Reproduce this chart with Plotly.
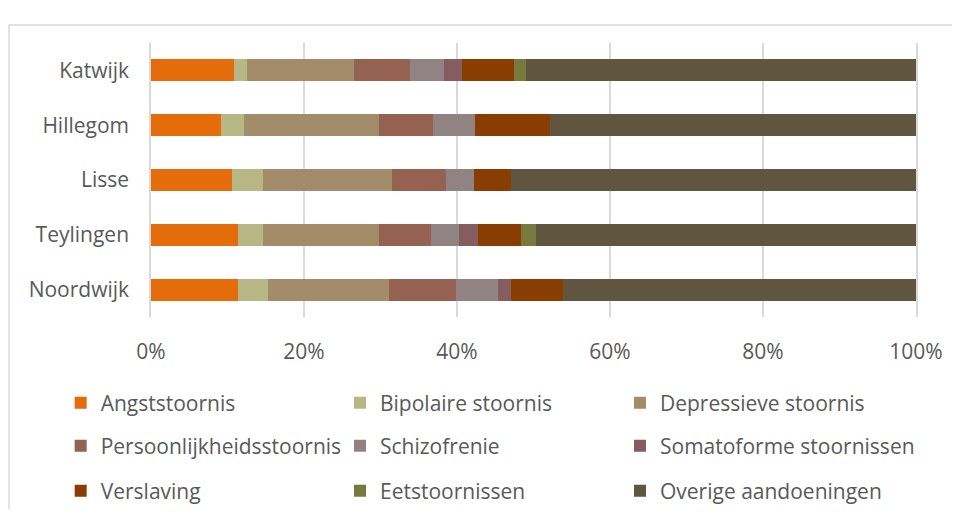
import plotly.graph_objects as go

categories = ["Katwijk", "Hillegom", "Lisse", "Teylingen", "Noordwijk"]

angst = [10.8, 9.2, 10.6, 11.4, 11.4]
bipolair = [1.8, 2.9, 4.0, 3.3, 3.9]
depressief = [13.9, 17.7, 16.9, 15.1, 15.8]
persoonlijkheid = [7.4, 7.1, 7.0, 6.8, 8.8]
schizofrenie = [4.4, 5.5, 3.7, 3.6, 5.4]
somatoform = [2.4, 0.0, 0.0, 2.6, 1.8]
verslaving = [6.7, 9.8, 4.9, 5.5, 6.8]
eetstoornissen = [1.6, 0.0, 0.0, 2.0, 0.0]
overige = [51.0, 47.8, 52.9, 49.7, 46.1]

series_names = ["Angststoornis", "Bipolaire stoornis", "Depressieve stoornis",
                "Persoonlijkheidsstoornis", "Schizofrenie", "Somatoforme stoornissen",
                "Verslaving", "Eetstoornissen", "Overige aandoeningen"]
series_values = [angst, bipolair, depressief, persoonlijkheid, schizofrenie,
                 somatoform, verslaving, eetstoornissen, overige]
colors = ["#E46C0A", "#B7B785", "#A38C6A", "#956251", "#918384",
          "#865D5E", "#8A3D00", "#77793F", "#605640"]
tick_vals = [0, 20, 40, 60, 80, 100]
tick_text = ["0%", "20%", "40%", "60%", "80%", "100%"]

FONT = "Open Sans"
TXT = "#595959"
FS = 21

fig = go.Figure()
legend_ids = ["legend" if i == 0 else f"legend{i+1}" for i in range(9)]
for name, vals, col, lg in zip(series_names, series_values, colors, legend_ids):
    fig.add_trace(go.Bar(
        y=categories, x=vals, name=name, orientation="h",
        marker=dict(color=col, line=dict(width=0)),
        legend=lg,
    ))

# legend grid positions (container coords): 3 columns x 3 rows
col_x = [0.0558, 0.3517, 0.6483]
row_y = [0.2116, 0.1257, 0.0359]
legend_layout = {}
for i, lg in enumerate(legend_ids):
    legend_layout[lg] = dict(
        orientation="h", xanchor="left", yanchor="middle",
        xref="container", yref="container",
        x=col_x[i % 3], y=row_y[i // 3],
        font=dict(family=FONT, size=FS, color=TXT),
        bgcolor="rgba(0,0,0,0)", borderwidth=0,
    )

# figure sits inside the page's default 8px body margin
fig.update_layout(
    width=944, height=501,
    margin=dict(l=143, r=36, t=35, b=192, autoexpand=False),
    paper_bgcolor="white", plot_bgcolor="white",
    barmode="stack", barnorm="percent", bargap=0.6,
    showlegend=True,
    xaxis=dict(
        range=[0, 100], tickvals=tick_vals, ticktext=tick_text,
        showgrid=True, gridcolor="#D9D9D9", gridwidth=1.5,
        zeroline=False, showline=False, automargin=False,
        tickfont=dict(family=FONT, size=FS, color=TXT),
        ticklabelstandoff=20, fixedrange=True,
    ),
    yaxis=dict(
        autorange="reversed", showgrid=False, zeroline=False,
        showline=True, mirror=True, linecolor="#D9D9D9", linewidth=1.5,
        tickfont=dict(family=FONT, size=FS, color=TXT),
        ticklabelstandoff=16, automargin=False, fixedrange=True,
    ),
    shapes=[dict(
        type="rect", xref="paper", yref="paper",
        x0=-0.1856, x1=2, y0=-2, y1=1.0657,
        line=dict(color="#D9D9D9", width=1.5), fillcolor="rgba(0,0,0,0)",
        layer="below",
    )],
    **legend_layout,
)

fig.write_html("out.html", config={"displayModeBar": False})
